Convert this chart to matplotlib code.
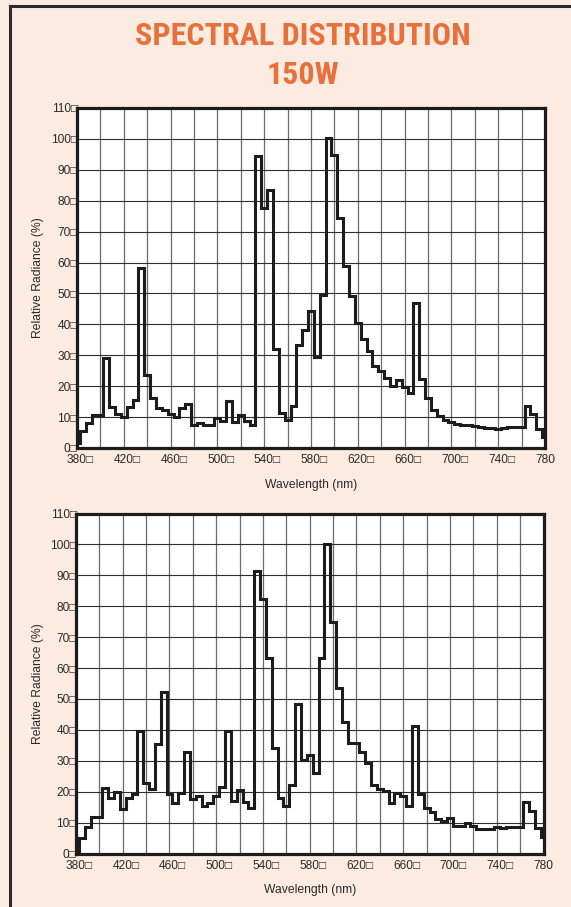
import matplotlib
matplotlib.use("Agg")
import matplotlib.pyplot as plt
from matplotlib.lines import Line2D
from matplotlib.transforms import ScaledTranslation
import numpy as np

# ---------------- data ----------------
wavelength_start = 380
wavelength_step = 5

radiance_top = [
    1.6, 5.4, 8.2, 10.8, 10.8, 29.0, 13.4, 11.0, 10.1, 13.4,      # 380-425
    15.4, 58.3, 23.6, 16.2, 12.8, 12.2, 10.9, 9.9, 12.9, 14.2,    # 430-475
    7.5, 8.2, 7.6, 7.6, 9.8, 8.8, 15.3, 8.3, 10.6, 8.6,           # 480-525
    7.6, 94.4, 77.5, 83.4, 32.0, 11.3, 9.1, 13.5, 33.2, 38.2,     # 530-575
    44.2, 29.4, 49.5, 100.2, 94.7, 74.5, 59.0, 49.3, 40.6, 35.2,  # 580-625
    31.4, 26.4, 24.8, 22.8, 20.2, 22.1, 19.6, 17.8, 47.0, 22.4,   # 630-675
    16.1, 12.4, 10.2, 9.1, 8.4, 7.8, 7.3, 7.5, 7.0, 6.7,          # 680-725
    6.5, 6.5, 6.2, 6.5, 6.8, 6.8, 6.8, 13.5, 10.9, 6.3,           # 730-775
    3.6,                                                          # 780
]

radiance_bottom = [
    0.5, 5.1, 8.6, 11.9, 11.9, 21.3, 18.0, 20.0, 14.3, 18.0,      # 380-425
    19.4, 39.6, 22.7, 21.0, 35.4, 52.3, 19.4, 16.4, 19.7, 32.9,   # 430-475
    17.5, 18.6, 15.4, 16.4, 18.7, 21.6, 39.6, 16.9, 20.7, 16.7,   # 480-525
    14.8, 91.4, 82.3, 63.4, 34.0, 17.8, 15.3, 22.1, 48.5, 30.2,   # 530-575
    31.8, 26.0, 63.2, 100.0, 74.8, 53.7, 42.6, 35.7, 35.7, 32.7,  # 580-625
    29.4, 22.1, 21.0, 20.3, 16.5, 19.7, 18.7, 15.3, 41.3, 19.4,   # 630-675
    14.6, 13.3, 11.1, 10.5, 11.5, 9.0, 9.0, 9.9, 9.0, 7.9,        # 680-725
    7.9, 7.9, 8.6, 8.3, 8.6, 8.6, 8.6, 16.7, 13.7, 8.3,           # 730-775
    5.4,                                                          # 780
]

x_tick_values = [380, 420, 460, 500, 540, 580, 620, 660, 700, 740, 780]
x_tick_labels = ["380□", "420□", "460□", "500□", "540□", "580□",
                 "620□", "660□", "700□", "740□", "780"]
y_tick_values = [0, 10, 20, 30, 40, 50, 60, 70, 80, 90, 100, 110]
y_tick_labels = ["0□", "10□", "20□", "30□", "40□", "50□", "60□",
                 "70□", "80□", "90□", "100□", "110□"]

title_line1 = "SPECTRAL DISTRIBUTION"
title_line2 = "150W"
x_label = "Wavelength (nm)"
y_label = "Relative Radiance (%)"

# ---------------- style ----------------
W, H = 571, 907
DPI = 100
BG = "#FCEBE1"
ORANGE = "#E9703A"
INK = "#1c1c1c"
TXT = "#2a2a2a"
LABEL_FONT = ["Liberation Sans", "Arial", "DejaVu Sans"]
TITLE_FONT = ["Liberation Sans Narrow", "Roboto Condensed", "Liberation Sans", "DejaVu Sans"]

plt.rcParams["font.family"] = LABEL_FONT

fig = plt.figure(figsize=(W / DPI, H / DPI), dpi=DPI, facecolor=BG)


def fx(px):
    return px / W


def fy(py):
    return 1 - py / H


# outer frame (top and left edges visible)
fig.add_artist(Line2D([fx(9.5), fx(W + 5)], [fy(5.5), fy(5.5)], transform=fig.transFigure,
                      color="#2b2b2b", lw=2.2, solid_capstyle="projecting"))
fig.add_artist(Line2D([fx(9.5), fx(9.5)], [fy(5.5), fy(H + 5)], transform=fig.transFigure,
                      color="#2b2b2b", lw=2.2, solid_capstyle="projecting"))

# title
fig.text(fx(303), fy(36), title_line1, color=ORANGE, fontsize=23, fontweight="bold",
         family=TITLE_FONT, ha="center", va="center")
fig.text(fx(303), fy(75), title_line2, color=ORANGE, fontsize=23, fontweight="bold",
         family=TITLE_FONT, ha="center", va="center")

x_values = wavelength_start + wavelength_step * np.arange(len(radiance_top))

panels = [
    (radiance_top, (77, 545, 108, 448)),
    (radiance_bottom, (76, 543.5, 513.5, 853.5)),
]

box_shift = ScaledTranslation(3.2 / DPI, 0, fig.dpi_scale_trans)

for values, (l, r, t, b) in panels:
    ax = fig.add_axes([fx(l), fy(b), (r - l) / W, (b - t) / H])
    ax.set_facecolor("white")
    ax.step(x_values, values, where="mid", color=INK, lw=2.2, solid_joinstyle="miter",
            zorder=3, clip_on=True)
    ax.set_xlim(380, 780)
    ax.set_ylim(0, 110)

    ax.set_xticks(x_tick_values)
    ax.set_xticklabels(x_tick_labels)
    ax.set_xticks(np.arange(380, 781, 20), minor=True)
    ax.set_yticks(y_tick_values)
    ax.set_yticklabels(y_tick_labels)

    ax.grid(True, which="both", axis="x", color="#6a6a6a", lw=0.9, zorder=1)
    ax.grid(True, which="major", axis="y", color="#2e2e2e", lw=0.8, zorder=1)
    ax.set_axisbelow(True)

    ax.tick_params(axis="both", which="both", length=0, labelsize=8.6, labelcolor=TXT)
    ax.tick_params(axis="x", pad=4.6)
    ax.tick_params(axis="y", pad=-0.5)

    for lab in ax.get_xticklabels():
        if lab.get_text().endswith("□"):
            lab.set_transform(lab.get_transform() + box_shift)

    for sp in ax.spines.values():
        sp.set_color(INK)
        sp.set_linewidth(2.3)
        sp.set_zorder(4)

    # axis titles
    fig.text(fx(38), fy((t + b) / 2), y_label, rotation=90, fontsize=8.7, color=TXT,
             ha="center", va="center")
    fig.text(fx((l + r) / 2), fy(b + 37), x_label, fontsize=8.7, color=TXT,
             ha="center", va="center")

fig.savefig("out.png", dpi=DPI, facecolor=BG)
